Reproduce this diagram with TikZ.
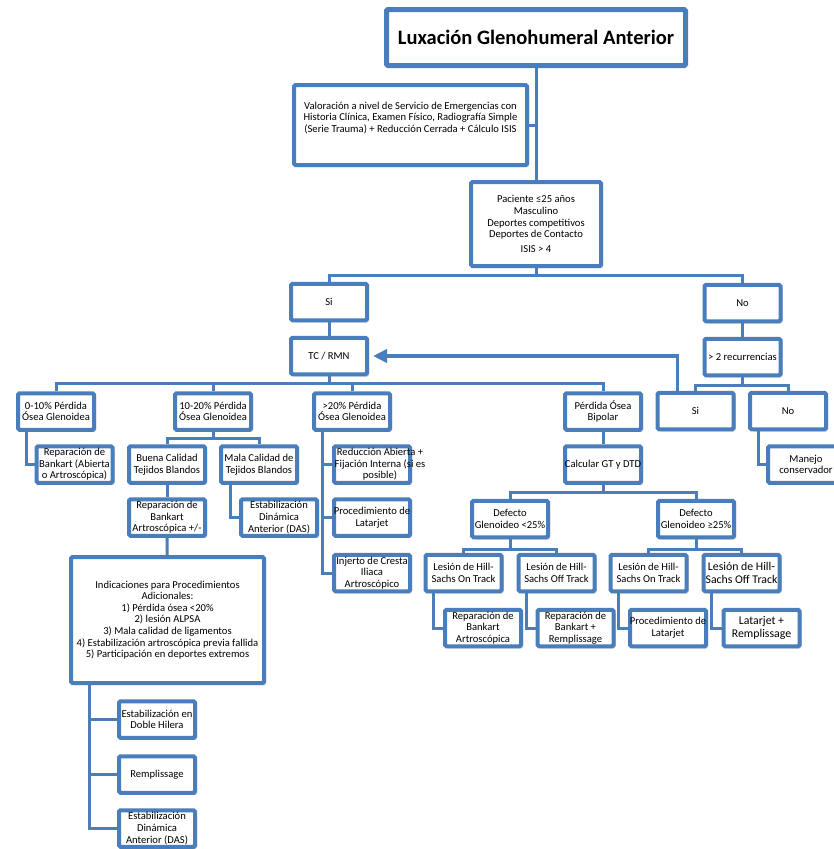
\documentclass[tikz,border=0pt]{standalone}
\usepackage{fontspec}
\setmainfont{Carlito}
\usetikzlibrary{shadows,arrows.meta}
\definecolor{boxblue}{RGB}{74,125,187}
\newcommand{\spill}[1]{\makebox[66pt][c]{#1}}
\newcommand{\spillr}[1]{\makebox[66pt][c]{\hspace{16pt}#1}}

\begin{document}
\begin{tikzpicture}[x=1pt,y=-1pt,
  main node/.style={rectangle,draw=boxblue,line width=4pt,fill=white,align=center,
    rounded corners=1.5pt,inner sep=0pt,minimum width=76pt,minimum height=36.5pt,
    font=\fontsize{10.6}{11.6}\selectfont,
    drop shadow={shadow xshift=2pt,shadow yshift=-2pt,fill=black,opacity=0.25}},
  big node/.style={main node,font=\fontsize{11.8}{13.5}\selectfont},
  link/.style={draw=boxblue,line width=3pt},
  elbow/.style={to path={|- (\tikztotarget)}},
  down/.style={to path={-| (\tikztotarget)}}]

  \useasboundingbox (0,0) rectangle (834,849);

  \node[main node,line width=5pt,minimum width=299pt,minimum height=56pt,
    font=\fontsize{20.5}{24}\selectfont\bfseries] (1) at (536,37.5) {Luxación Glenohumeral Anterior};
  \node[main node,minimum width=233pt,minimum height=80pt] (2) at (410.5,125)
    {Valoración a nivel de Servicio de Emergencias con\\Historia Clínica, Examen Físico, Radiografía Simple\\(Serie Trauma) + Reducción Cerrada + Cálculo ISIS\\[4pt]};
  \node[main node,minimum width=130pt,minimum height=84pt] (3) at (536,224)
    {Paciente ≤25 años\\Masculino\\Deportes competitivos\\Deportes de Contacto\\[3pt]ISIS > 4};
  \node[main node] (4) at (329,302) {Si};
  \node[main node] (5) at (329,356) {TC / RMN};
  \node[main node] (6) at (742.5,303) {No};
  \node[main node] (7) at (742.5,357) {> 2 recurrencias};
  \node[main node] (8) at (695.5,411) {Si};
  \node[main node] (9) at (788,411) {No};
  \node[main node] (10) at (806,464.5) {Manejo\\conservador};

  \node[main node] (11) at (56,411.5) {0-10\%  Pérdida\\Ósea Glenoidea};
  \node[main node] (12) at (213,411.5) {10-20\%  Pérdida\\Ósea Glenoidea};
  \node[main node] (13) at (352,411.5) {>20\%  Pérdida\\Ósea Glenoidea};
  \node[main node] (14) at (603,411.5) {Pérdida Ósea\\Bipolar};

  \node[main node] (15) at (74.5,464.5) {Reparación de\\Bankart (Abierta\\o Artroscópica)};
  \node[main node] (16) at (167,464.5) {Buena Calidad\\Tejidos Blandos};
  \node[main node] (17) at (259,464.5) {Mala Calidad de\\Tejidos Blandos};
  \node[main node] (18) at (167,517.5) {Reparación de\\Bankart\\Artroscópica +/-};
  \node[main node] (19) at (279,517.5) {Estabilización\\Dinámica\\Anterior (DAS)};
  \node[main node] (20) at (372,464.5) {\spillr{Reducción Abierta +}\\\spillr{Fijación Interna (si es}\\\spillr{posible)}};
  \node[main node] (21) at (372,517.5) {\spill{Procedimiento de}\\Latarjet};
  \node[main node] (22) at (372,573) {Injerto de Cresta\\Iliaca\\Artroscópico};

  \node[main node] (23) at (603,464.5) {\spill{Calcular GT y DTD}};
  \node[main node] (24) at (510,519) {Defecto\\Glenoideo <25\%};
  \node[main node] (25) at (696,519) {Defecto\\Glenoideo ≥25\%};
  \node[main node] (26) at (463.5,573) {Lesión de Hill-\\Sachs On Track};
  \node[main node] (27) at (556.5,573) {Lesión de Hill-\\Sachs Off Track};
  \node[main node] (28) at (648.5,573) {Lesión de Hill-\\Sachs On Track};
  \node[big node] (29) at (741.5,573) {Lesión de Hill-\\\spill{Sachs Off Track}};
  \node[main node] (30) at (483,628) {Reparación de\\Bankart\\Artroscópica};
  \node[main node] (31) at (575.5,628) {Reparación de\\Bankart +\\Remplissage};
  \node[main node] (32) at (668,628) {\spill{Procedimiento de}\\Latarjet};
  \node[big node] (33) at (761.5,628) {Latarjet +\\Remplissage};

  \node[main node,minimum width=193pt,minimum height=126pt] (34) at (167.5,620)
    {Indicaciones para Procedimientos\\Adicionales:\\1) Pérdida ósea <20\%\\2) lesión ALPSA\\3) Mala calidad de ligamentos\\4) Estabilización artroscópica previa fallida\\5) Participación en deportes extremos};
  \node[main node] (35) at (157,719.5) {Estabilización en\\Doble Hilera};
  \node[main node] (36) at (157,774.5) {Remplissage};
  \node[main node] (37) at (157,828.5) {Estabilización\\Dinámica\\Anterior (DAS)};

  \coordinate (b1) at (536,275);
  \coordinate (b2) at (742.5,385);
  \coordinate (b3) at (329,383);
  \coordinate (b4) at (213,438);
  \coordinate (b5) at (603,492);
  \coordinate (b6) at (510,549);
  \coordinate (b7) at (696,549);

  \path[link]
   (1) edge (3)
   (2) edge (2 -| 1)
   (3) edge (b1)
   (b1) edge[down] (4)
   (b1) edge[down] (6)
   (4) edge (5)
   (6) edge (7)
   (7) edge (b2)
   (b2) edge[down] (8)
   (b2) edge[down] (9)
   ([xshift=-30pt]9.south) edge[elbow] (10)
   (5) edge (b3)
   (b3) edge[down] (11)
   (b3) edge[down] (12)
   (b3) edge[down] (13)
   (b3) edge[down] (14)
   ([xshift=-30pt]11.south) edge[elbow] (15)
   (12) edge (b4)
   (b4) edge[down] (16)
   (b4) edge[down] (17)
   (16) edge (18)
   ([xshift=-29pt]17.south) edge[elbow] (19)
   ([xshift=-30pt]13.south) edge[elbow] (20)
   ([xshift=-30pt]13.south) edge[elbow] (21)
   ([xshift=-30pt]13.south) edge[elbow] (22)
   (14) edge (23)
   (23) edge (b5)
   (b5) edge[down] (24)
   (b5) edge[down] (25)
   (24) edge (b6)
   (b6) edge[down] (26)
   (b6) edge[down] (27)
   (25) edge (b7)
   (b7) edge[down] (28)
   (b7) edge[down] (29)
   ([xshift=-30pt]26.south) edge[elbow] (30)
   ([xshift=-30pt]27.south) edge[elbow] (31)
   ([xshift=-30pt]28.south) edge[elbow] (32)
   ([xshift=-30pt]29.south) edge[elbow] (33)
   (18) edge (34)
   ([xshift=-78pt]34.south) edge[elbow] (35)
   ([xshift=-78pt]34.south) edge[elbow] (36)
   ([xshift=-78pt]34.south) edge[elbow] (37);

  % retorno hacia TC / RMN
  \draw[link,line width=3.5pt,-{Triangle[length=14pt,width=13pt]},shorten >=4pt]
   ([xshift=-18pt]8.north) |- (5);
\end{tikzpicture}
\end{document}
